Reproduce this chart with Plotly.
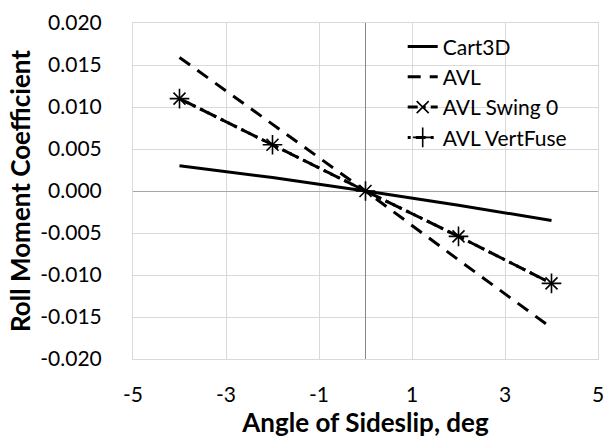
import plotly.graph_objects as go

# Sideslip sweep, degrees
beta = [-4, -2, 0, 2, 4]

# Roll moment coefficient per method
cart3d = [0.0030, 0.0016, 0.0, -0.0017, -0.0035]
avl = [0.0159, 0.0080, 0.0, -0.0082, -0.0163]
avl_swing0 = [0.0110, 0.0055, 0.0, -0.0054, -0.0110]
avl_vertfuse = [0.0110, 0.0055, 0.0, -0.0054, -0.0110]

x_ticks = [-5, -3, -1, 1, 3, 5]
y_ticks = [-0.020, -0.015, -0.010, -0.005, 0.000, 0.005, 0.010, 0.015, 0.020]

FONT = "Lato, 'Liberation Sans', sans-serif"

fig = go.Figure()
fig.add_trace(go.Scatter(x=beta, y=cart3d, name="Cart3D", mode="lines",
                         line=dict(color="black", width=3)))
fig.add_trace(go.Scatter(x=beta, y=avl, name="AVL", mode="lines",
                         line=dict(color="black", width=3, dash="13px,9px")))
fig.add_trace(go.Scatter(x=beta, y=avl_swing0, name="AVL Swing 0", mode="lines+markers",
                         line=dict(color="black", width=3, dash="10px,5px,3px,5px"),
                         marker=dict(symbol="x-thin-open", size=12,
                                     line=dict(color="black", width=1.6))))
fig.add_trace(go.Scatter(x=beta, y=avl_vertfuse, name="AVL VertFuse", mode="lines+markers",
                         line=dict(color="black", width=3, dash="3px,5px,10px,5px"),
                         marker=dict(symbol="cross-thin-open", size=14,
                                     line=dict(color="black", width=1.6))))

fig.update_layout(
    width=613, height=444,
    margin=dict(l=133, r=9, t=22, b=85),
    paper_bgcolor="white", plot_bgcolor="white",
    font=dict(family=FONT, size=21, color="black"),
    showlegend=True,
    legend=dict(x=0.58, y=0.99, xanchor="left", yanchor="top",
                bgcolor="rgba(0,0,0,0)", font=dict(size=21),
                tracegroupgap=0, itemwidth=30),
    xaxis=dict(range=[-5, 5], tickvals=x_ticks, ticktext=[str(v) for v in x_ticks],
               showgrid=True, gridcolor="#d9d9d9", gridwidth=1,
               zeroline=True, zerolinecolor="#888888", zerolinewidth=1,
               showline=True, linecolor="#d9d9d9", mirror=True,
               ticks="", ticklabelstandoff=17,
               title=dict(text="<b>Angle of Sideslip, deg</b>", font=dict(size=26), standoff=4)),
    yaxis=dict(range=[-0.020, 0.020], tickvals=y_ticks,
               ticktext=[f"{v:.3f}" for v in y_ticks],
               showgrid=True, gridcolor="#d9d9d9", gridwidth=1,
               zeroline=True, zerolinecolor="#a6a6a6", zerolinewidth=1,
               showline=True, linecolor="#d9d9d9", mirror=True,
               ticks="", ticklabelstandoff=26,
               title=dict(text="<b>Roll Moment Coefficient</b>", font=dict(size=26), standoff=2)),
)

fig.write_html("out.html")
